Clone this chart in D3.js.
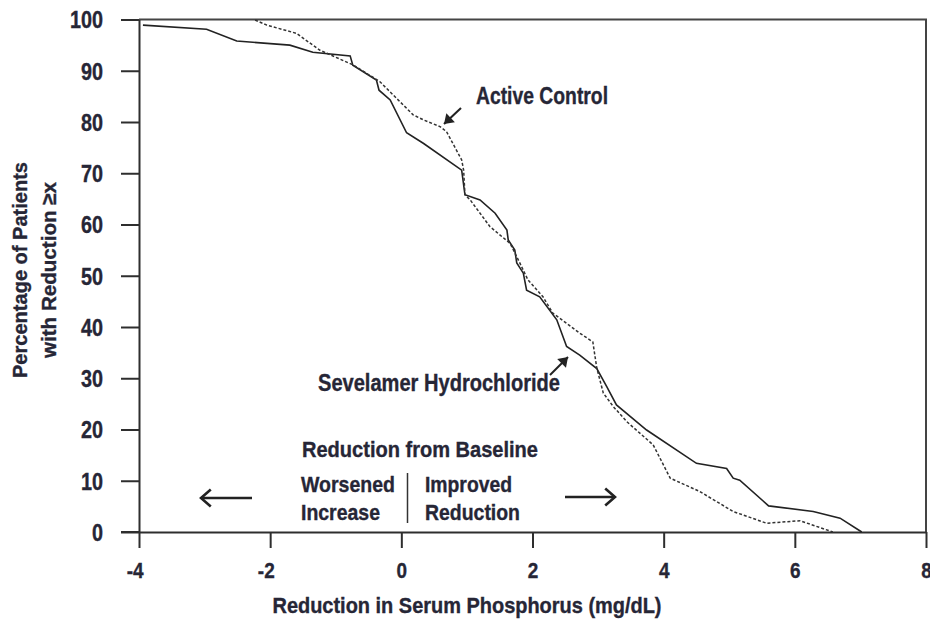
<!DOCTYPE html>
<html>
<head>
<meta charset="utf-8">
<script src="https://cdn.jsdelivr.net/npm/d3@7"></script>
<style>
  html, body { margin: 0; padding: 0; background: #ffffff; }
  svg { display: block; }
  text { font-family: "Liberation Sans", Arial, sans-serif; font-weight: bold; fill: #262636; stroke: #262636; stroke-width: 0.35px; }
</style>
</head>
<body>
<svg id="chart" width="930" height="622"></svg>
<script>
// ---- data ----
const sevelamerX = [-3.94, -2.97, -2.51, -1.70, -1.35, -0.78, -0.74, -0.38, -0.34, -0.17, 0.08, 0.34, 0.92, 0.97, 1.20, 1.43, 1.61, 1.63, 1.73, 1.76, 1.86, 1.91, 2.11, 2.37, 2.52, 2.72, 2.98, 3.13, 3.28, 3.74, 4.50, 4.96, 5.06, 5.16, 5.60, 6.28, 6.69, 7.02];
const sevelamerY = [98.9, 98.1, 95.8, 95.0, 93.6, 92.9, 91.1, 88.2, 86.2, 84.3, 77.9, 75.8, 70.6, 65.8, 64.8, 62.2, 58.9, 57.0, 55.0, 52.5, 50.5, 47.2, 45.9, 41.4, 36.2, 34.5, 31.9, 28.4, 24.8, 19.9, 13.4, 12.4, 10.5, 10.1, 5.1, 4.0, 2.7, 0];
const activeX = [-2.23, -2.05, -1.60, -1.24, -0.73, -0.33, 0.18, 0.34, 0.59, 0.69, 0.92, 0.95, 0.97, 1.05, 1.35, 1.66, 1.81, 1.93, 2.16, 2.31, 2.72, 2.92, 2.98, 3.08, 3.23, 3.44, 3.84, 4.10, 4.55, 5.06, 5.57, 6.08, 6.58];
const activeY = [99.9, 98.9, 97.3, 94.0, 91.1, 87.9, 81.4, 80.4, 79.1, 78.1, 72.6, 70.6, 65.8, 64.8, 59.6, 56.3, 52.4, 49.2, 45.9, 42.7, 38.8, 37.1, 32.0, 27.1, 24.5, 21.5, 17.0, 10.5, 7.9, 4.0, 1.7, 2.2, 0];
const xTicks = [-4, -2, 0, 2, 4, 6, 8];
const yTicks = [0, 10, 20, 30, 40, 50, 60, 70, 80, 90, 100];
const xTitle = "Reduction in Serum Phosphorus (mg/dL)";
const yTitle = ["Percentage of Patients", "with Reduction \u2265x"];

// ---- layout ----
const svg = d3.select("#chart");
const x = d3.scaleLinear().domain([-4, 8]).range([139, 926]);
const y = d3.scaleLinear().domain([0, 100]).range([532, 19.5]);
const ink = "#2e2e2e";

// condense text horizontally (emulates a narrow bold face)
function narrow(sel, f) {
  sel.each(function () {
    const w = this.getComputedTextLength();
    d3.select(this).attr("textLength", w * (f || 0.82)).attr("lengthAdjust", "spacingAndGlyphs");
  });
}
function fitTo(sel, w) {
  sel.attr("textLength", w).attr("lengthAdjust", "spacingAndGlyphs");
}

// frame (top and right)
svg.append("path")
  .attr("d", `M${x(-4)},${y(100)}H${x(8)}V${y(0)}`)
  .attr("fill", "none").attr("stroke", "#444").attr("stroke-width", 2);

// y axis
const yAxis = svg.append("g").attr("transform", `translate(${x(-4)},0)`)
  .call(d3.axisLeft(y).tickValues(yTicks).tickSize(18).tickPadding(18).tickSizeOuter(0).tickFormat(d3.format("d")));
yAxis.selectAll("text").style("font-size", "23px").attr("dy", "0.36em").call(narrow, 0.86);

// x axis
const xAxis = svg.append("g").attr("transform", `translate(0,${y(0)})`)
  .call(d3.axisBottom(x).tickValues(xTicks).tickSize(16).tickPadding(14).tickSizeOuter(0).tickFormat(d => d < 0 ? "-" + Math.abs(d) : d));
xAxis.selectAll("text").style("font-size", "22px").attr("dx", d => d < 0 ? "-0.2em" : 0).call(narrow, 0.86);

svg.selectAll(".domain").attr("stroke", ink).attr("stroke-width", 2);
svg.selectAll(".tick line").attr("stroke", ink).attr("stroke-width", 2);
xAxis.append("line").attr("x1", x(-4) - 18).attr("x2", x(-4)).attr("y1", 0).attr("y2", 0).attr("stroke", ink).attr("stroke-width", 2);

// axis titles
svg.append("text").attr("x", 467).attr("y", 613).attr("text-anchor", "middle")
  .style("font-size", "22px").text(xTitle).call(fitTo, 389);
const yt = svg.append("text").attr("transform", "translate(27,270) rotate(-90)")
  .attr("text-anchor", "middle").style("font-size", "21px");
yt.append("tspan").attr("x", 0).attr("y", 0).text(yTitle[0]).call(fitTo, 216);
yt.append("tspan").attr("x", 0).attr("y", 29).text(yTitle[1]).call(fitTo, 176);

// curves
const line = d3.line().x(d => x(d[0])).y(d => y(d[1]));
svg.append("path").datum(d3.zip(sevelamerX, sevelamerY)).attr("d", line)
  .attr("fill", "none").attr("stroke", "#222").attr("stroke-width", 1.6);
svg.append("path").datum(d3.zip(activeX, activeY)).attr("d", line)
  .attr("fill", "none").attr("stroke", "#333").attr("stroke-width", 1.5).attr("stroke-dasharray", "3,2");

// annotations
function shaft(x1, y1, x2, y2, sw) {
  const a = Math.atan2(y2 - y1, x2 - x1);
  const g = svg.append("g");
  g.append("line").attr("x1", x1).attr("y1", y1).attr("x2", x2).attr("y2", y2)
    .attr("stroke", "#222").attr("stroke-width", sw);
  return { g, a };
}
function openArrow(x1, y1, x2, y2) {
  const { g, a } = shaft(x1, y1, x2, y2, 2.6);
  const L = 13, w = 0.72;
  g.append("path")
    .attr("d", `M${x2 - L * Math.cos(a - w)},${y2 - L * Math.sin(a - w)}L${x2},${y2}L${x2 - L * Math.cos(a + w)},${y2 - L * Math.sin(a + w)}`)
    .attr("fill", "none").attr("stroke", "#222").attr("stroke-width", 2.6);
}
function solidArrow(x1, y1, x2, y2) {
  const { g, a } = shaft(x1, y1, x2, y2, 2);
  const L = 11, w = 0.6;
  g.append("path")
    .attr("d", `M${x2},${y2}L${x2 - L * Math.cos(a - w)},${y2 - L * Math.sin(a - w)}L${x2 - L * Math.cos(a + w)},${y2 - L * Math.sin(a + w)}Z`)
    .attr("fill", "#222");
}

svg.append("text").attr("x", 476).attr("y", 104).style("font-size", "24px").text("Active Control").call(fitTo, 132);
solidArrow(461, 108, 444, 124);
svg.append("text").attr("x", 318).attr("y", 391).style("font-size", "24px").text("Sevelamer Hydrochloride").call(fitTo, 242);
solidArrow(550, 375, 568, 357);

svg.append("text").attr("x", 302).attr("y", 457).style("font-size", "22px").text("Reduction from Baseline").call(fitTo, 236);
svg.append("text").attr("x", 301).attr("y", 492).style("font-size", "22px").text("Worsened").call(fitTo, 94);
svg.append("text").attr("x", 301).attr("y", 520).style("font-size", "22px").text("Increase").call(fitTo, 79);
svg.append("text").attr("x", 425).attr("y", 492).style("font-size", "22px").text("Improved").call(fitTo, 87);
svg.append("text").attr("x", 425).attr("y", 520).style("font-size", "22px").text("Reduction").call(fitTo, 95);
svg.append("line").attr("x1", 407.5).attr("x2", 407.5).attr("y1", 473).attr("y2", 523)
  .attr("stroke", "#333").attr("stroke-width", 1.5);
openArrow(252, 498, 201, 498);
openArrow(565, 497, 615, 497);
</script>
</body>
</html>
